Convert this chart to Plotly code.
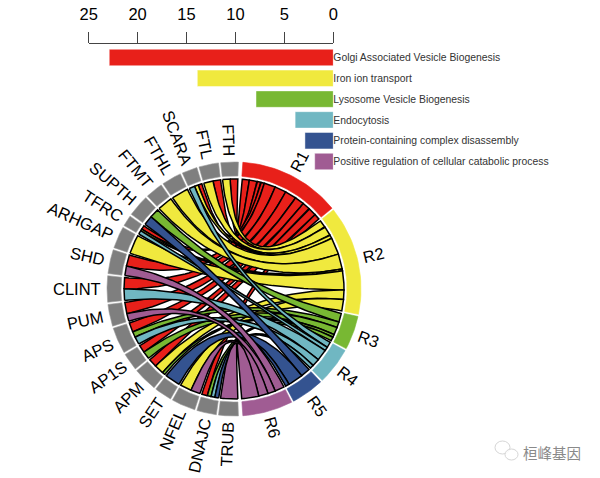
import numpy as np
import plotly.graph_objects as go

# ---- data ----
TERM_LABELS = ["Golgi Associated Vesicle Biogenesis", "Iron ion transport", "Lysosome Vesicle Biogenesis",
               "Endocytosis", "Protein-containing complex disassembly", "Positive regulation of cellular catabolic process"]
TERM_SHORT = ["R1", "R2", "R3", "R4", "R5", "R6"]
TERM_VALUES = [22.9, 13.9, 7.9, 3.9, 2.9, 1.9]
TERM_COLORS = ["#E8201A", "#F0E93E", "#78B833", "#70B7C2", "#345390", "#A05C93"]
BAR_TICKS = [0, 5, 10, 15, 20, 25]

GENES = ["TRUB", "DNAJC", "NFEL", "SET", "APM", "AP1S", "APS", "PUM", "CLINT", "SHD",
         "ARHGAP", "TFRC", "SUPTH", "FTMT", "FTHL", "SCARA", "FTL", "FTH"]
#        TRUB DNAJC NFEL SET APM AP1S APS PUM CLINT SHD ARHG TFRC SUPT FTMT FTHL SCAR FTL FTH
R1_W = [0,   3,   0,   0,   4.5, 4,   5,   6,   6,   6,   0,   2,   0,  0,   0,   2,   4,   4]
R2_W = [0,   0,   6,   0,   5,   0,   0,   0,   0,   0,   10,  1,   0,  8,   9,   2,   5,   4]
R3_W = [0,   2,   0,   0,   1.5, 4,   3,   0,   0,   0,   0,   0,   5,  0,   0,   0,   0,   0]
R4_W = [0,   2,   0,   0,   0,   0,   4,   0,   6,   0,   0,   2,   0,  0,   0,   3,   0,   0]
R5_W = [0,   2,   0,   8,   0,   0,   0,   0,   0,   0,   0,   0,   5,  0,   0,   0,   0,   0]
R6_W = [9,   0,   5,   0,   0,   0,   0,   4,   0,   5,   0,   0,   0,  0,   0,   0,   0,   0]
WEIGHTS = np.array([R1_W, R2_W, R3_W, R4_W, R5_W, R6_W], dtype=float)

# ---- layout constants (pixels of the 600x478 page) ----
W, H = 600, 478
CX, CY, RPX = 234.0, 289.0, 127.0
R_OUT, R_IN, R_RIB = 1.0, 113.0 / 127, 110.0 / 127
GAP = 1.0
TERM_SPAN = (4.0, 176.0)
GENE_SPAN = (178.0, 362.0)
LABEL_SIZE = 16.5
EM = dict(zip("ABCDEFGHIJKLMNOPQRSTUVWXYZ0123456789",
              [.667, .667, .722, .722, .667, .611, .778, .722, .278, .5, .667, .556, .833, .722, .778, .667,
               .778, .722, .667, .611, .722, .667, .944, .667, .667, .611] + [.556] * 10))


def pt(theta, r):
    t = np.radians(theta)
    return r * np.sin(t), r * np.cos(t)


def sector_layout(totals, span):
    n = len(totals)
    k = (span[1] - span[0] - GAP * (n - 1)) / sum(totals)
    out, a = [], span[0]
    for v in totals:
        out.append((a, a + v * k))
        a += v * k + GAP
    return out, k


term_sec, k_t = sector_layout(WEIGHTS.sum(axis=1), TERM_SPAN)
gene_sec, k_g = sector_layout(WEIGHTS.sum(axis=0), GENE_SPAN)

# slot of each link on the gene side: higher term first, clockwise
gene_slot = {}
for g in range(len(GENES)):
    a = gene_sec[g][0]
    for t in range(len(TERM_SHORT) - 1, -1, -1):
        w = WEIGHTS[t, g] * k_g
        if w > 0:
            gene_slot[(t, g)] = (a, a + w)
            a += w
# on the term side: genes in reverse order, clockwise
term_slot = {}
for t in range(len(TERM_SHORT)):
    a = term_sec[t][0]
    for g in range(len(GENES) - 1, -1, -1):
        w = WEIGHTS[t, g] * k_t
        if w > 0:
            term_slot[(t, g)] = (a, a + w)
            a += w


def arc(a, b, r, n=14):
    th = np.linspace(a, b, n)
    return pt(th, r)


def bez(p0, p1, n=50):
    s = np.linspace(0, 1, n)
    return (1 - s) ** 2 * p0[0] + s ** 2 * p1[0], (1 - s) ** 2 * p0[1] + s ** 2 * p1[1]


fig = go.Figure()

# bars
fig.add_trace(go.Bar(y=TERM_LABELS, x=TERM_VALUES, orientation="h", width=0.79,
                     marker=dict(color=TERM_COLORS, line=dict(color="rgba(255,255,255,0.45)", width=1)),
                     hoverinfo="skip", xaxis="x", yaxis="y"))

# ribbons
for t in range(len(TERM_SHORT)):
    for g in range(len(GENES) - 1, -1, -1):
        if (t, g) not in gene_slot:
            continue
        g1, g2 = gene_slot[(t, g)]
        t1, t2 = term_slot[(t, g)]
        ax, ay = arc(g1, g2, R_RIB)
        bx, by = bez(pt(g2, R_RIB), pt(t1 + 360, R_RIB))
        cx, cy = arc(t1, t2, R_RIB)
        dx, dy = bez(pt(t2, R_RIB), pt(g1, R_RIB))
        fig.add_trace(go.Scatter(x=np.concatenate([ax, bx, cx, dx]), y=np.concatenate([ay, by, cy, dy]),
                                 mode="lines", fill="toself", fillcolor=TERM_COLORS[t],
                                 line=dict(color="black", width=1.5), hoverinfo="skip", xaxis="x2", yaxis="y2"))


def ring(a, b, color, edge):
    ox, oy = arc(a, b, R_OUT, 24)
    ix, iy = arc(b, a, R_IN, 24)
    fig.add_trace(go.Scatter(x=np.concatenate([ox, ix, ox[:1]]), y=np.concatenate([oy, iy, oy[:1]]),
                             mode="lines", fill="toself", fillcolor=color, line=dict(color=edge, width=0.6),
                             hoverinfo="skip", xaxis="x2", yaxis="y2"))


for (a, b), c in zip(term_sec, TERM_COLORS):
    ring(a, b, c, c)
for a, b in gene_sec:
    ring(a, b, "#7F7F7F", "#9A9A9A")

# radial labels


def label(text, theta, angle):
    w = sum(EM[c] for c in text) * LABEL_SIZE
    r = (RPX + 6 + w / 2) / RPX
    x, y = pt(theta, r)
    fig.add_annotation(x=x, y=y, xref="x2", yref="y2", text=text, showarrow=False, textangle=angle,
                       xanchor="center", yanchor="middle", font=dict(size=LABEL_SIZE, color="black"))


for name, (a, b) in zip(TERM_SHORT, term_sec):
    m = (a + b) / 2
    label(name, m, m - 90)
for name, (a, b) in zip(GENES, gene_sec):
    m = (a + b) / 2
    label(name, m, m - 270)

# watermark
fig.add_annotation(x=521 / W, y=1 - 452 / H, xref="paper", yref="paper", text="桓峰基因", showarrow=False,
                   xanchor="left", yanchor="middle", font=dict(family="Noto Sans CJK SC", size=14.5, color="#8a8a8a"))
shapes = [dict(type="circle", xref="paper", yref="paper", x0=x0 / W, x1=x1 / W, y0=1 - y1 / H, y1=1 - y0 / H,
               line=dict(color="#d6d6d6", width=1), fillcolor="rgba(255,255,255,0.8)")
          for x0, x1, y0, y1 in [(495, 510, 441, 454), (505, 518, 449, 460)]]

fig.update_layout(
    width=W, height=H, autosize=False, margin=dict(l=0, r=0, t=0, b=0), showlegend=False,
    paper_bgcolor="white", plot_bgcolor="rgba(0,0,0,0)", shapes=shapes,
    font=dict(family="Liberation Sans, Arial, sans-serif", color="black"),
    xaxis=dict(domain=[88.7 / W, 333.3 / W], range=[25, 0], side="top", anchor="y", tickvals=BAR_TICKS,
               ticks="outside", ticklen=11, tickcolor="#444", tickwidth=1, showline=True, linecolor="#444", linewidth=1,
               showgrid=False, zeroline=False, tickfont=dict(size=16.5), ticklabelstandoff=5, automargin=False),
    yaxis=dict(domain=[1 - 175 / H, 1 - 44 / H], range=[5.649, -0.649], side="right", anchor="x", type="category",
               categoryorder="array", categoryarray=TERM_LABELS, showgrid=False, zeroline=False, showline=False,
               ticks="", tickfont=dict(size=10.4, color="#333"), ticklabelstandoff=-1, automargin=False),
    xaxis2=dict(domain=[0, 1], range=[(0 - CX) / RPX, (W - CX) / RPX], visible=False, anchor="y2", automargin=False),
    yaxis2=dict(domain=[0, 1], range=[(CY - H) / RPX, CY / RPX], visible=False, anchor="x2", automargin=False),
)
fig.write_html("out.html", config={"displayModeBar": False},
               post_script="document.body.style.margin='0';document.documentElement.style.overflow='hidden';")
